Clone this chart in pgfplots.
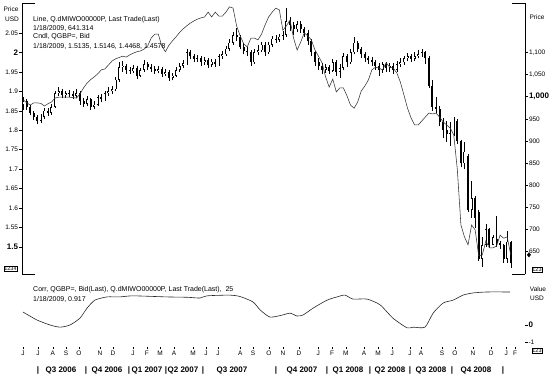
\documentclass[border=0pt]{standalone}
\usepackage{pgfplots}
\pgfplotsset{compat=1.18}
\usepackage{pgfplotstable}
\usepackage{fontspec}
\setmainfont{Liberation Sans}
\newcommand{\sm}{\fontsize{6.5}{7.5}\selectfont}
\newcommand{\an}{\fontsize{7}{8}\selectfont}
\newcommand{\bg}{\fontsize{8}{9}\selectfont\bfseries}

\pgfplotstableread{
w o h l c
0 1.865 1.885 1.852 1.875
1 1.875 1.880 1.852 1.860
2 1.860 1.866 1.838 1.845
3 1.845 1.850 1.826 1.835
4 1.835 1.840 1.815 1.825
5 1.825 1.842 1.818 1.835
6 1.835 1.856 1.830 1.850
7 1.850 1.858 1.836 1.845
8 1.845 1.868 1.840 1.860
9 1.860 1.900 1.856 1.895
10 1.895 1.910 1.888 1.900
11 1.900 1.906 1.882 1.890
12 1.890 1.902 1.884 1.895
13 1.895 1.904 1.885 1.893
14 1.893 1.900 1.880 1.888
15 1.888 1.905 1.882 1.896
16 1.896 1.900 1.866 1.875
17 1.875 1.882 1.860 1.868
18 1.868 1.888 1.862 1.880
19 1.880 1.884 1.852 1.860
20 1.860 1.874 1.854 1.866
21 1.866 1.890 1.862 1.885
22 1.885 1.893 1.872 1.880
23 1.880 1.900 1.876 1.895
24 1.895 1.910 1.888 1.900
25 1.900 1.915 1.894 1.905
26 1.905 1.936 1.900 1.930
27 1.930 1.975 1.925 1.962
28 1.962 1.978 1.950 1.966
29 1.966 1.970 1.945 1.955
30 1.955 1.962 1.944 1.952
31 1.952 1.968 1.946 1.960
32 1.960 1.965 1.932 1.940
33 1.940 1.960 1.936 1.955
34 1.955 1.980 1.950 1.970
35 1.970 1.975 1.955 1.963
36 1.963 1.970 1.950 1.958
37 1.958 1.965 1.945 1.953
38 1.953 1.966 1.946 1.957
39 1.957 1.962 1.938 1.945
40 1.945 1.958 1.940 1.950
41 1.950 1.955 1.926 1.935
42 1.935 1.948 1.928 1.940
43 1.940 1.962 1.936 1.955
44 1.955 1.972 1.950 1.965
45 1.965 1.980 1.960 1.972
46 1.972 2.008 1.968 2.000
47 2.000 2.006 1.982 1.990
48 1.990 1.996 1.976 1.984
49 1.984 1.994 1.975 1.986
50 1.986 1.990 1.966 1.975
51 1.975 1.988 1.968 1.980
52 1.980 1.985 1.960 1.968
53 1.968 1.984 1.962 1.976
54 1.976 1.982 1.962 1.970
55 1.970 1.996 1.966 1.990
56 1.990 2.004 1.984 1.995
57 1.995 2.016 1.990 2.010
58 2.010 2.034 2.005 2.025
59 2.025 2.052 2.020 2.045
60 2.045 2.062 2.030 2.040
61 2.040 2.045 2.008 2.015
62 2.015 2.024 1.995 2.005
63 2.005 2.014 1.990 2.000
64 2.000 2.006 1.965 1.975
65 1.975 2.008 1.970 2.000
66 2.000 2.018 1.994 2.006
67 2.006 2.028 2.000 2.020
68 2.020 2.026 1.992 2.000
69 2.000 2.028 1.996 2.020
70 2.020 2.042 2.014 2.035
71 2.035 2.046 2.025 2.033
72 2.033 2.048 2.026 2.040
73 2.040 2.055 2.032 2.045
74 2.045 2.115 2.040 2.080
75 2.080 2.092 2.055 2.070
76 2.070 2.078 2.045 2.060
77 2.060 2.082 2.052 2.072
78 2.072 2.080 2.050 2.060
79 2.060 2.066 2.040 2.050
80 2.050 2.058 2.020 2.030
81 2.030 2.035 1.990 2.000
82 2.000 2.005 1.965 1.975
83 1.975 1.985 1.956 1.965
84 1.965 1.972 1.945 1.955
85 1.955 1.970 1.948 1.962
86 1.962 1.968 1.944 1.953
87 1.953 1.982 1.950 1.975
88 1.975 1.980 1.940 1.950
89 1.950 1.970 1.935 1.960
90 1.960 1.998 1.955 1.990
91 1.990 1.995 1.962 1.975
92 1.975 2.010 1.970 2.000
93 2.000 2.040 1.995 2.025
94 2.025 2.030 2.000 2.010
95 2.010 2.015 1.985 1.995
96 1.995 2.000 1.975 1.985
97 1.985 1.992 1.970 1.980
98 1.980 1.988 1.966 1.975
99 1.975 1.980 1.956 1.965
100 1.965 1.972 1.940 1.955
101 1.955 1.976 1.948 1.970
102 1.970 1.975 1.950 1.960
103 1.960 1.974 1.950 1.966
104 1.966 1.972 1.945 1.955
105 1.955 1.978 1.950 1.970
106 1.970 1.985 1.962 1.975
107 1.975 1.992 1.968 1.985
108 1.985 1.998 1.978 1.990
109 1.990 1.996 1.976 1.984
110 1.984 2.000 1.978 1.990
111 1.990 2.006 1.985 1.995
112 1.995 2.010 1.988 2.000
113 2.000 2.005 1.970 1.985
114 1.985 1.990 1.908 1.915
115 1.915 1.930 1.850 1.860
116 1.860 1.885 1.845 1.855
117 1.855 1.862 1.810 1.820
118 1.820 1.832 1.780 1.800
119 1.800 1.825 1.770 1.790
120 1.790 1.820 1.760 1.792
121 1.792 1.835 1.785 1.825
122 1.825 1.830 1.765 1.772
123 1.772 1.775 1.705 1.715
124 1.715 1.770 1.700 1.745
125 1.735 1.740 1.590 1.595
126 1.595 1.670 1.575 1.625
127 1.625 1.630 1.550 1.575
128 1.590 1.595 1.465 1.470
129 1.470 1.525 1.448 1.505
130 1.505 1.560 1.500 1.545
131 1.545 1.550 1.498 1.505
132 1.505 1.532 1.505 1.525
133 1.520 1.580 1.500 1.510
134 1.510 1.515 1.496 1.505
135 1.505 1.508 1.460 1.470
136 1.470 1.540 1.460 1.5135
137 1.5135 1.5146 1.4468 1.4578
}\gbp

\pgfplotstableread{
w v
0 993
1 987
2 981
3 986
4 986
5 985
6 979
7 984
8 988
9 997
10 999
11 999
12 999
13 999
14 998
15 997
16 1006
17 1020
18 1031
19 1039
20 1045
21 1052
22 1061
23 1063
24 1072
25 1081
26 1086
27 1089
28 1092
29 1090
30 1095
31 1099
32 1102
33 1104
34 1108
35 1115
36 1133
37 1142
38 1142
39 1115
40 1102
41 1117
42 1127
43 1136
44 1146
45 1154
46 1161
47 1167
48 1172
49 1176
50 1179
51 1181
52 1192
53 1181
54 1192
55 1183
56 1183
57 1192
58 1204
59 1201
60 1161
61 1138
62 1120
63 1113
64 1133
65 1133
66 1129
67 1142
68 1163
69 1181
70 1192
71 1201
72 1197
73 1151
74 1161
75 1174
76 1133
77 1106
78 1124
79 1145
80 1138
81 1129
82 1106
83 1092
84 1077
85 1045
86 1022
87 1040
88 1011
89 1020
90 1020
91 1002
92 981
93 974
94 988
95 1013
96 1024
97 1038
98 1061
99 1067
100 1065
101 1061
102 1077
103 1067
104 1065
105 1054
106 1033
107 1004
108 974
109 952
110 936
111 936
112 945
113 954
114 963
115 961
116 963
117 954
118 943
119 936
120 929
121 913
122 834
123 709
124 682
125 664
126 709
127 698
128 639
129 641
130 673
131 657
132 657
133 661
134 686
135 679
136 682
137 641.314
}\msci

\pgfplotstableread{
w r
0 0.36
3.9 0.14
7.6 0.00
10.4 -0.06
13.2 0.00
16 0.19
18 0.47
20.2 0.69
23.6 0.78
27.2 0.78
30.9 0.81
40.4 0.78
46.1 0.77
49.7 0.75
51.7 0.81
58.1 0.83
61 0.79
64.6 0.64
66.6 0.42
69.4 0.22
73 0.28
75 0.33
77 0.25
78.7 0.28
81.5 0.47
85.4 0.69
88.2 0.78
90.4 0.83
92.7 0.72
96.6 0.72
100.3 0.56
103.9 0.19
107.9 -0.08
109.6 -0.06
112.9 -0.06
115.2 0.33
118 0.61
120.8 0.69
123.6 0.83
126.4 0.89
130.3 0.917
136.8 0.917
}\corr

\pgfplotsset{
  candle/.style={draw=none, mark=none, forget plot,
    error bars/y dir=plus, error bars/y explicit, error bars/error mark=none},
}

\begin{document}
\begin{tikzpicture}
\useasboundingbox (0pt,0pt) rectangle (550pt,381pt);

% ---------- upper panel, left axis (GBP candles)
\begin{axis}[at={(22pt,107pt)}, anchor=south west, scale only axis,
  width=503pt, height=271pt,
  xmin=-0.28, xmax=141, ymin=1.4306, ymax=2.1271,
  axis x line=none, axis y line*=left,
  axis line style={line width=0.6pt,-},
  ytick={1.5,1.55,1.6,1.65,1.7,1.75,1.8,1.85,1.9,1.95,2,2.05},
  yticklabels={{\bg 1.5},1.55,1.6,1.65,1.7,1.75,1.8,1.85,1.9,1.95,{\bg 2},2.05},
  yticklabel style={font=\sm, inner sep=0.8pt},
  tick align=outside, major tick length=3pt,
  tick style={line width=0.5pt, black},
  clip=false]
% wicks
\addplot[candle, error bars/error bar style={draw=black, line width=0.5pt}]
  table[x=w, y=l, y error expr=\thisrow{h}-\thisrow{l}] {\gbp};
% down bodies (filled)
\addplot[candle, restrict expr to domain={\thisrow{o}-\thisrow{c}}{0.00001:1},
  error bars/error bar style={draw=black, line width=2.0pt}]
  table[x=w, y=c, y error expr=\thisrow{o}-\thisrow{c}] {\gbp};
% up bodies (hollow)
\addplot[candle, restrict expr to domain={\thisrow{c}-\thisrow{o}}{0:1},
  error bars/error bar style={draw=black, line width=2.0pt}]
  table[x=w, y=o, y error expr=\thisrow{c}-\thisrow{o}] {\gbp};
\addplot[candle, restrict expr to domain={\thisrow{c}-\thisrow{o}}{0.004:1},
  error bars/error bar style={draw=white, line width=0.8pt, shorten <=0.6pt, shorten >=0.6pt}]
  table[x=w, y=o, y error expr=\thisrow{c}-\thisrow{o}] {\gbp};
\draw[line width=0.6pt] (rel axis cs:0,1) -- ++(13pt,0pt);
\draw[line width=0.6pt] (rel axis cs:0,0) -- ++(13pt,0pt);
\end{axis}

% ---------- upper panel, right axis (MSCI line)
\begin{axis}[at={(22pt,107pt)}, anchor=south west, scale only axis,
  width=503pt, height=271pt,
  xmin=-0.28, xmax=141, ymin=597.8, ymax=1212.7,
  axis x line=none, axis y line*=right,
  axis line style={line width=0.6pt,-},
  ytick={650,700,750,800,850,900,950,1000,1050,1100},
  yticklabels={650,700,750,800,850,900,950,{\bg 1,000},{1,050},{1,100}},
  yticklabel style={font=\sm, inner sep=0.8pt},
  tick align=outside, major tick length=3pt,
  tick style={line width=0.5pt, black},
  clip=false]
\addplot[line width=0.55pt, black!80, mark=none] table[x=w, y=v] {\msci};
\addplot[only marks, mark=diamond*, mark size=2.2pt, black] coordinates {(142.1, 641.314)};
\draw[line width=0.6pt] (rel axis cs:1,1) -- ++(-13pt,0pt);
\draw[line width=0.6pt] (rel axis cs:1,0) -- ++(-13pt,0pt);
\end{axis}

% ---------- lower panel (correlation)
\begin{axis}[at={(22pt,34pt)}, anchor=south west, scale only axis,
  width=503pt, height=71pt,
  xmin=-0.28, xmax=141, ymin=-0.611, ymax=1.361,
  axis x line*=bottom, axis y line*=right,
  axis line style={draw=none},
  xtick={0,4.2,8.4,12.1,15.7,21.6,25.3,30.9,34.8,38.5,42.4,47.8,51.4,54.8,61,64.6,69.1,73,77.5,82.9,86.8,90.7,95.8,99.7,103.7,108.7,111.8,117.7,121.3,126.4,131.5,135.7,138.2},
  xticklabels={J,J,A,S,O,N,D,J,F,M,A,M,J,J,A,S,O,N,D,J,F,M,A,M,J,J,A,S,O,N,D,J,F},
  xticklabel style={font=\sm, inner sep=1pt},
  ytick={-0.472,0},
  yticklabels={-1,{\bg 0}},
  yticklabel style={font=\sm, inner sep=0.8pt},
  tick align=outside, major tick length=2.5pt,
  tick style={line width=0.5pt, black},
  clip=false]
\addplot[line width=0.6pt, black!85, mark=none, smooth, tension=0.4] table[x=w, y=r] {\corr};
\end{axis}

% ---------- texts
\node[anchor=west, font=\an, inner sep=0pt] at (33pt,361pt) {Line, Q.dMIWO00000P, Last Trade(Last)};
\node[anchor=west, font=\an, inner sep=0pt] at (33pt,352.5pt) {1/18/2009, 641.314};
\node[anchor=west, font=\an, inner sep=0pt] at (33pt,344pt) {Cndl, QGBP=, Bid};
\node[anchor=west, font=\an, inner sep=0pt] at (33pt,335pt) {1/18/2009, 1.5135, 1.5146, 1.4468, 1.4578};
\node[anchor=west, font=\an, inner sep=0pt] at (33pt,91pt) {Corr, QGBP=, Bid(Last), Q.dMIWO00000P, Last Trade(Last),\ \ 25};
\node[anchor=west, font=\an, inner sep=0pt] at (33pt,82pt) {1/18/2009, 0.917};

\node[font=\sm, inner sep=0pt] at (11pt,372pt) {Price};
\node[font=\sm, inner sep=0pt] at (12pt,362pt) {USD};
\node[font=\sm, inner sep=0pt] at (537pt,364pt) {Price};
\node[font=\sm, inner sep=0pt] at (538pt,92pt) {Value};
\node[font=\sm, inner sep=0pt] at (537pt,83pt) {USD};

\node[draw, font=\fontsize{5.5}{6}\selectfont, inner sep=0.6pt, line width=0.4pt] at (10.5pt,112pt) {1234};
\node[draw, font=\fontsize{5.5}{6}\selectfont, inner sep=0.6pt, line width=0.4pt] at (537pt,111pt) {123};
\node[draw, font=\fontsize{5.5}{6}\selectfont, inner sep=0.6pt, line width=0.4pt] at (537pt,30pt) {123};

% quarter row
\foreach \xx in {38,86,129,166,203,276,327,370,410,452,503}
  \node[font=\bg, inner sep=0pt] at (\xx pt,11pt) {|};
\node[font=\bg, inner sep=0pt] at (61pt,11pt) {Q3 2006};
\node[font=\bg, inner sep=0pt] at (107pt,11pt) {Q4 2006};
\node[font=\bg, inner sep=0pt] at (147pt,11pt) {Q1 2007};
\node[font=\bg, inner sep=0pt] at (183pt,11pt) {Q2 2007};
\node[font=\bg, inner sep=0pt] at (232pt,11pt) {Q3 2007};
\node[font=\bg, inner sep=0pt] at (302pt,11pt) {Q4 2007};
\node[font=\bg, inner sep=0pt] at (348pt,11pt) {Q1 2008};
\node[font=\bg, inner sep=0pt] at (390pt,11pt) {Q2 2008};
\node[font=\bg, inner sep=0pt] at (431pt,11pt) {Q3 2008};
\node[font=\bg, inner sep=0pt] at (476pt,11pt) {Q4 2008};
\end{tikzpicture}
\end{document}
